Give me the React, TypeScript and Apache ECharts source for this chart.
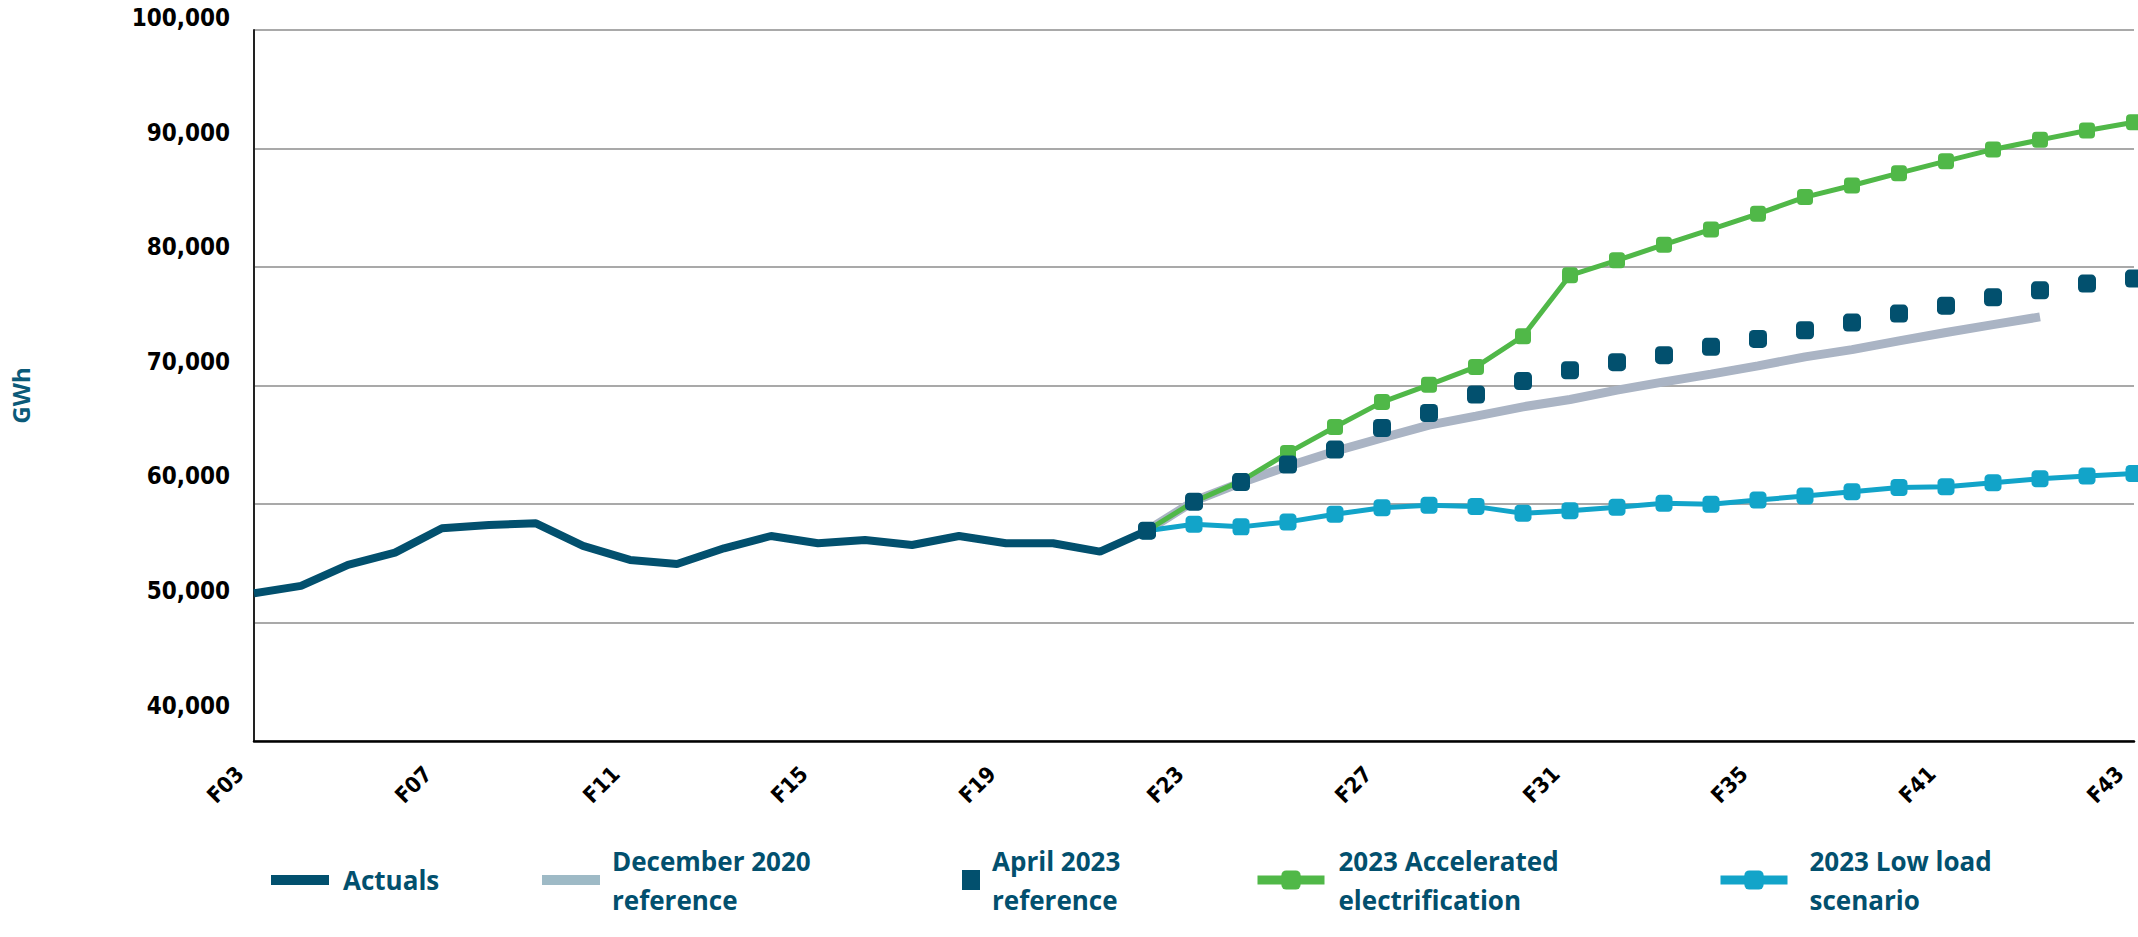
import { useEffect, useRef } from "react";
import * as echarts from "echarts";

const categories = [
  "F03", "F04", "F05", "F06", "F07", "F08", "F09", "F10", "F11", "F12",
  "F13", "F14", "F15", "F16", "F17", "F18", "F19", "F20", "F21", "F22",
  "F23", "F24", "F25", "F26", "F27", "F28", "F29", "F30", "F31", "F32",
  "F33", "F34", "F35", "F36", "F37", "F38", "F39", "F40", "F41", "F42", "F43",
];
// labels as printed on the axis (every 4th category)
const tickLabels = ["F03", "F07", "F11", "F15", "F19", "F23", "F27", "F31", "F35", "F41", "F43"];

const yMin = 40000;
const yMax = 100000;
const yStep = 10000;

const actuals = [
  52470, 53090, 54860, 55900, 57950, 58230, 58370, 56460, 55280, 54940,
  56260, 57300, 56690, 56970, 56540, 57300, 56690, 56690, 55980, 57750,
];

const forecastStart = "F22";
const dec2020 = [
  57750, 60250, 61800, 63190, 64450, 65570, 66650, 67420, 68200, 68820,
  69610, 70310, 70960, 71660, 72420, 73030, 73760, 74470, 75140, 75790,
];
const april2023 = [
  57750, 60200, 61850, 63330, 64590, 66410, 67680, 69240, 70370, 71290, 71970,
  72560, 73260, 73930, 74660, 75310, 76070, 76740, 77440, 78030, 78600, 79020,
];
const accelerated = [
  57750, 60200, 61930, 64310, 66500, 68600, 70060, 71570, 74160, 79300, 80560,
  81880, 83170, 84490, 85900, 86880, 87920, 88930, 89920, 90730, 91520, 92220,
];
const lowLoad = [
  57750, 58290, 58070, 58490, 59130, 59690, 59890, 59780, 59210, 59440, 59720,
  60060, 59970, 60340, 60670, 61040, 61400, 61460, 61800, 62130, 62360, 62580,
];

const C_ACT = "#02506e";
const C_DEC = "#aab4c4";
const C_DEC_LEG = "#9ebac6";
const C_ACC = "#50b848";
const C_LOW = "#12a4c9";
const C_TEXT = "#02506e";
const AXIS_FONT = "'DejaVu Sans Condensed', 'DejaVu Sans', sans-serif";

function placeFrom(start: string, vals: number[]) {
  const s = categories.indexOf(start);
  return categories.map((_, i) => {
    const k = i - s;
    return k >= 0 && k < vals.length ? vals[k] : null;
  });
}

const legendFont = {
  fontFamily: "'Open Sans', 'Noto Sans', sans-serif",
  fontWeight: "bold" as const,
  fontSize: 26,
  color: C_TEXT,
  lineHeight: 39,
};

function legendItem(name: string, left: number, twoLine: boolean, gap: number, extra: any) {
  return {
    data: [{ name }],
    left,
    top: twoLine ? 821.5 : 860.5,
    padding: 0,
    selectedMode: false,
    textStyle: { ...legendFont, padding: [twoLine ? 39 : 0, 0, 0, gap - 5] },
    ...extra,
  };
}

export default function App() {
  const ref = useRef<HTMLDivElement>(null);
  useEffect(() => {
    if (!ref.current) return;
    const chart = echarts.init(ref.current, null, { renderer: "svg" });
    const option: any = {
      animation: false,
      backgroundColor: "#ffffff",
      grid: [
        { left: 254, right: 4, top: 30, bottom: 196, containLabel: false, outerBoundsMode: "none" },
        { left: 254, right: 4, top: 18, bottom: 231.5, containLabel: false, outerBoundsMode: "none" },
      ],
      xAxis: [
        {
          type: "category",
          gridIndex: 0,
          data: categories,
          boundaryGap: false,
          axisLine: { show: true, lineStyle: { color: "#000", width: 2.5 } },
          axisTick: { show: false },
          splitLine: { show: false },
          axisLabel: {
            interval: 3,
            rotate: 45,
            margin: 15,
            padding: [0, 20, 0, 0],
            fontFamily: AXIS_FONT,
            fontWeight: "bold",
            fontSize: 22,
            color: "#000",
            formatter: (_v: string, i: number) => tickLabels[Math.round(i / 4)] ?? "",
          },
        },
        { type: "value", gridIndex: 1, show: false },
      ],
      yAxis: [
        {
          type: "value",
          gridIndex: 0,
          min: yMin,
          max: yMax,
          interval: yStep,
          axisLine: { show: true, lineStyle: { color: "#222", width: 2 } },
          axisTick: { show: false },
          axisLabel: { show: false },
          splitLine: { show: true, lineStyle: { color: "#8c8c8c", width: 1.5 } },
          name: "GWh",
          nameLocation: "middle",
          nameRotate: 90,
          nameGap: 222,
          nameTextStyle: {
            fontFamily: "'Open Sans', sans-serif",
            fontWeight: "bold",
            fontSize: 24,
            color: "#0b5a79",
            padding: [0, 20, 0, 0],
          },
        },
        {
          type: "value",
          gridIndex: 1,
          min: yMin,
          max: yMax,
          interval: yStep,
          axisLine: { show: false },
          axisTick: { show: false },
          splitLine: { show: false },
          axisLabel: {
            margin: 24,
            fontFamily: AXIS_FONT,
            fontWeight: "bold",
            fontSize: 24,
            color: "#000",
            formatter: (v: number) => v.toLocaleString("en-US"),
          },
        },
      ],
      legend: [
        legendItem("Actuals", 271, false, 14, { icon: "rect", itemWidth: 58, itemHeight: 10 }),
        legendItem("December 2020\nreference", 542, true, 12, {
          icon: "rect",
          itemWidth: 58,
          itemHeight: 10,
          data: [{ name: "December 2020\nreference", itemStyle: { color: C_DEC_LEG } }],
        }),
        legendItem("April 2023\nreference", 962, true, 12, { icon: "rect", itemWidth: 18, itemHeight: 20 }),
        legendItem("2023 Accelerated\nelectrification", 1253, true, 14, {
          itemWidth: 67,
          itemHeight: 24,
          lineStyle: { width: 9 },
        }),
        legendItem("2023 Low load\nscenario", 1716, true, 22, {
          itemWidth: 67,
          itemHeight: 24,
          lineStyle: { width: 9 },
        }),
      ],
      series: [
        {
          name: "December 2020\nreference",
          type: "line",
          data: placeFrom(forecastStart, dec2020),
          symbol: "none",
          lineStyle: { color: C_DEC, width: 9 },
          itemStyle: { color: C_DEC },
          z: 2,
        },
        {
          name: "2023 Low load\nscenario",
          type: "line",
          data: placeFrom(forecastStart, lowLoad),
          symbol: "roundRect",
          symbolSize: 17,
          lineStyle: { color: C_LOW, width: 5 },
          itemStyle: { color: C_LOW },
          z: 3,
        },
        {
          name: "2023 Accelerated\nelectrification",
          type: "line",
          data: placeFrom(forecastStart, accelerated),
          symbol: "roundRect",
          symbolSize: 16,
          lineStyle: { color: C_ACC, width: 5 },
          itemStyle: { color: C_ACC },
          z: 4,
        },
        {
          name: "Actuals",
          type: "line",
          data: placeFrom(categories[0], actuals),
          symbol: "none",
          lineStyle: { color: C_ACT, width: 8 },
          itemStyle: { color: C_ACT },
          z: 5,
        },
        {
          name: "April 2023\nreference",
          type: "line",
          data: placeFrom(forecastStart, april2023),
          symbol: "roundRect",
          symbolSize: 18,
          lineStyle: { width: 0, opacity: 0 },
          itemStyle: { color: C_ACT },
          z: 6,
        },
      ],
    };
    chart.setOption(option);
    return () => chart.dispose();
  }, []);
  return (
    <div
      ref={ref}
      style={{ position: "absolute", left: 0, top: 0, width: 2138, height: 937, background: "#fff" }}
    />
  );
}
